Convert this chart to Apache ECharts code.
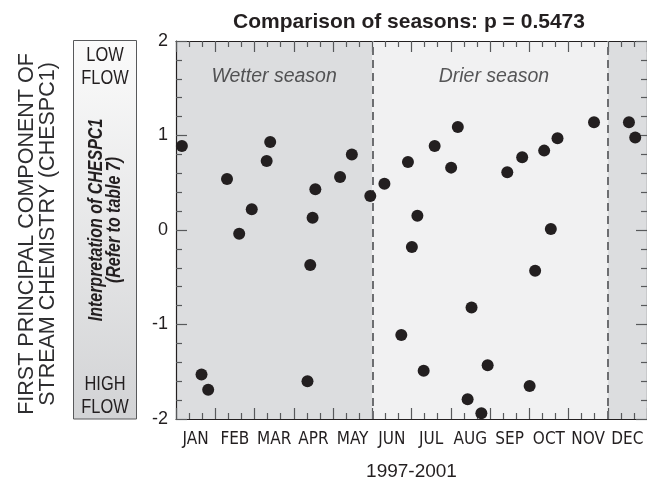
<!DOCTYPE html>
<html>
<head>
<meta charset="utf-8">
<script src="https://cdn.jsdelivr.net/npm/echarts@6/dist/echarts.min.js"></script>
<style>
  html, body { margin: 0; padding: 0; background: #ffffff; }
  #chart { width: 647px; height: 480px; }
</style>
</head>
<body>
<div id="chart"></div>
<script>
// Month labels along the bottom axis
const months = ['JAN', 'FEB', 'MAR', 'APR', 'MAY', 'JUN', 'JUL', 'AUG', 'SEP', 'OCT', 'NOV', 'DEC'];

// Sample date expressed as fractional month of the year (0 = 1 Jan, 12 = 31 Dec)
const samplePos = [
  0.15, 0.65, 0.82, 1.30, 1.61, 1.93, 2.31, 2.40, 3.35, 3.42, 3.48, 3.55,
  4.18, 4.48, 4.95, 5.31, 5.74, 5.91, 6.01, 6.15, 6.31, 6.59, 7.01, 7.18,
  7.43, 7.53, 7.78, 7.94, 8.44, 8.82, 9.01, 9.15, 9.38, 9.55, 9.72, 10.65,
  11.54, 11.70
];

// First principal component of stream chemistry for each sample
const chespc1 = [
  0.89, -1.53, -1.69, 0.54, -0.04, 0.22, 0.73, 0.93, -1.60, -0.37, 0.13, 0.43,
  0.56, 0.80, 0.36, 0.49, -1.11, 0.72, -0.18, 0.15, -1.49, 0.89, 0.66, 1.09,
  -1.79, -0.82, -1.94, -1.43, 0.61, 0.77, -1.65, -0.43, 0.84, 0.01, 0.97, 1.14,
  1.14, 0.98
];

// Season boundaries in fractional months
const wetterSpans = [[0, 5], [11, 12]];
const drierSpan = [5, 11];
const seasonBreaks = [5, 11];

const pValue = '0.5473';

const points = samplePos.map((x, i) => [x, chespc1[i]]);

const INK = '#231f20';
const TICK = '#58595b';
const NARROW = "'Liberation Sans Narrow', 'Arial Narrow', 'DejaVu Sans Condensed', sans-serif";
const SANS = "'Liberation Sans', Arial, Helvetica, sans-serif";
// Arial-metric face squeezed horizontally to act as a condensed face
const SQUEEZE = 0.82;

const chart = echarts.init(document.getElementById('chart'), null, { renderer: 'canvas' });

const valueX = (position, showLabels) => ({
  type: 'value',
  position: position,
  min: 0,
  max: 12,
  interval: 1,
  axisLine: { show: true, onZero: false, lineStyle: { color: INK, width: 1.2 } },
  axisTick: { show: true, inside: true, length: 11, lineStyle: { color: TICK, width: 1.2 } },
  minorTick: { show: true, splitNumber: 3, length: 6, lineStyle: { color: TICK, width: 1.2 } },
  axisLabel: { show: showLabels },
  splitLine: { show: false }
});

const valueY = (position, showLabels) => ({
  type: 'value',
  position: position,
  min: -2,
  max: 2,
  interval: 1,
  axisLine: { show: true, onZero: false, lineStyle: { color: INK, width: 1.2 } },
  axisTick: { show: true, inside: true, length: 11, lineStyle: { color: TICK, width: 1.2 } },
  minorTick: { show: true, splitNumber: 5, length: 6, lineStyle: { color: TICK, width: 1.2 } },
  axisLabel: { show: showLabels, color: INK, fontSize: 18, fontFamily: SANS, margin: 8 },
  splitLine: { show: false }
});

const option = {
  backgroundColor: '#ffffff',
  animation: false,
  title: {
    text: 'Comparison of seasons: p = ' + pValue,
    left: 404,
    textAlign: 'center',
    top: 7,
    textStyle: { color: INK, fontSize: 21, fontWeight: 'bold', fontFamily: SANS }
  },
  grid: {
    left: 176, top: 41, width: 471, height: 378,
    containLabel: false,
    outerBoundsMode: 'none'
  },
  xAxis: [
    valueX('bottom', false),
    valueX('top', false),
    {
      type: 'category',
      position: 'bottom',
      data: months,
      boundaryGap: true,
      axisLine: { show: false },
      axisTick: { show: false },
      axisLabel: { color: INK, fontSize: 17, fontFamily: NARROW, margin: 12, interval: 0 },
      name: '1997-2001',
      nameLocation: 'middle',
      nameGap: 43,
      nameTextStyle: { color: INK, fontSize: 19, fontFamily: SANS }
    }
  ],
  yAxis: [valueY('left', true), valueY('right', false)],
  graphic: [
    // Interpretation scale box with a light-to-grey gradient
    {
      type: 'rect',
      shape: { x: 73.5, y: 40.5, width: 63, height: 378.5 },
      style: {
        fill: new echarts.graphic.LinearGradient(0, 0, 0, 1, [
          { offset: 0, color: '#fbfbfb' },
          { offset: 1, color: '#d2d3d5' }
        ]),
        stroke: '#58595b',
        lineWidth: 1
      },
      z: 10
    },
    {
      type: 'text', x: 105, y: 67, scaleX: SQUEEZE, z: 11,
      style: { text: 'LOW\nFLOW', fill: INK, font: "20px " + SANS, textAlign: 'center', textVerticalAlign: 'middle', lineHeight: 23 }
    },
    {
      type: 'text', x: 105, y: 396, scaleX: SQUEEZE, z: 11,
      style: { text: 'HIGH\nFLOW', fill: INK, font: "20px " + SANS, textAlign: 'center', textVerticalAlign: 'middle', lineHeight: 23 }
    },
    {
      type: 'text', x: 106, y: 220, rotation: Math.PI / 2, scaleX: SQUEEZE, z: 11,
      style: { text: 'Interpretation of CHESPC1\n(Refer to table 7)', fill: INK, font: "italic bold 19.5px " + SANS, textAlign: 'center', textVerticalAlign: 'middle', lineHeight: 18 }
    },
    // Outer axis title
    {
      type: 'text', x: 38, y: 234, rotation: Math.PI / 2, z: 11,
      style: { text: 'FIRST PRINCIPAL COMPONENT OF\nSTREAM CHEMISTRY (CHESPC1)', fill: '#2e2e30', font: "21.5px " + SANS, textAlign: 'center', textVerticalAlign: 'middle', lineHeight: 21 }
    }
  ],
  series: [
    {
      type: 'scatter',
      xAxisIndex: 0,
      yAxisIndex: 0,
      data: points,
      symbol: 'circle',
      symbolSize: 12,
      itemStyle: { color: INK, opacity: 1 },
      z: 5,
      markArea: {
        silent: true,
        data: [
          [{ xAxis: wetterSpans[0][0], itemStyle: { color: '#dcdddf', opacity: 1 } }, { xAxis: wetterSpans[0][1] }],
          [{ xAxis: drierSpan[0], itemStyle: { color: '#f1f1f2', opacity: 1 } }, { xAxis: drierSpan[1] }],
          [{ xAxis: wetterSpans[1][0], itemStyle: { color: '#dcdddf', opacity: 1 } }, { xAxis: wetterSpans[1][1] }]
        ],
        label: { show: false },
        z: 0
      },
      markLine: {
        silent: true,
        symbol: ['none', 'none'],
        label: { show: false },
        lineStyle: { color: '#6d6e71', width: 2, type: [8, 5] },
        data: seasonBreaks.map(v => ({ xAxis: v }))
      }
    },
    // Season names placed in data space near the top of each span
    {
      type: 'scatter',
      xAxisIndex: 0,
      yAxisIndex: 0,
      symbolSize: 0,
      silent: true,
      data: [
        { value: [2.5, 1.62], name: 'Wetter season' },
        { value: [8.1, 1.62], name: 'Drier season' }
      ],
      label: {
        show: true,
        position: 'inside',
        formatter: p => p.name,
        color: '#2e2e30',
        fontSize: 19.5,
        fontStyle: 'italic',
        fontFamily: SANS
      }
    }
  ]
};

chart.setOption(option);
</script>
</body>
</html>
